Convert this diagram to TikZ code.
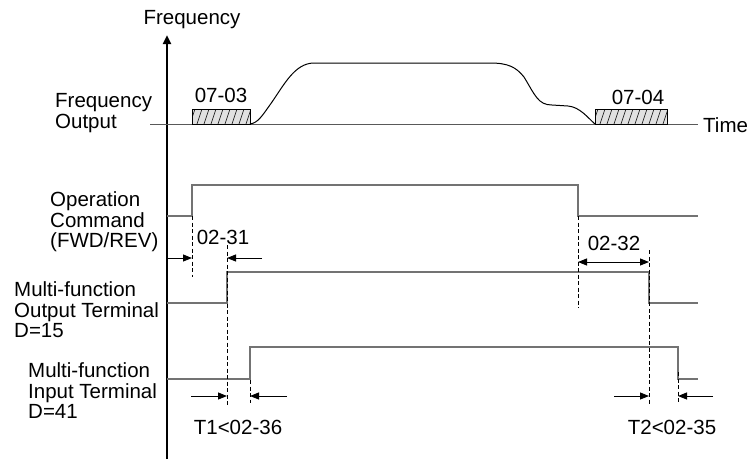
\documentclass[tikz,border=0pt]{standalone}
\usepackage{fontspec}
\setmainfont{Liberation Sans}
\usetikzlibrary{arrows.meta}
\tikzset{
  lbl/.style={font=\fontsize{20.5}{20.5}\selectfont, inner sep=0pt},
  sig/.style={line width=1.4pt, draw=black!55},
  guide/.style={dashed, dash pattern=on 4pt off 2.5pt, line width=0.9pt},
  dimarrow/.style={-{Triangle[length=9pt,width=7pt]}, line width=0.9pt},
  delaybox/.style={draw, line width=0.9pt, fill=black!12},
}
\begin{document}
\begin{tikzpicture}[x=1pt,y=-1pt]
\useasboundingbox (0,0) rectangle (748,459);
% axis
\draw[line width=2.4pt, -{Triangle[length=9pt,width=8pt]}] (167,459) -- (167,35);
\node[lbl] (freq) at (192,20) {Frequency};
% frequency output
\draw[line width=1pt, draw=black!65] (150,124) -- (698,124);
\node[lbl, anchor=west] (time) at (703,125) {Time};
\node[lbl, anchor=west, align=left] (fout) at (55,113) {Frequency\\Output};
\draw[delaybox] (192,109) rectangle (250,124);
\draw[delaybox] (595,109) rectangle (667,124);
\begin{scope}
  \clip (192,109) rectangle (250,124);
  \foreach \x in {190,197,...,255} \draw[line width=0.6pt] (\x,124) -- (\x+5,109);
\end{scope}
\begin{scope}
  \clip (595,109) rectangle (667,124);
  \foreach \x in {593,600,...,672} \draw[line width=0.6pt] (\x,124) -- (\x+5,109);
\end{scope}
\node[lbl] (p0703) at (221,95) {07-03};
\node[lbl] (p0704) at (638,97) {07-04};
\draw[line width=1pt] (250,124) .. controls (258,123) and (262,116) .. (272,102)
  .. controls (285,83) and (295,64) .. (313,63) -- (490,63)
  .. controls (508,63) and (516,67) .. (524,77)
  .. controls (535,95) and (538,105) .. (552,105) -- (568,106)
  .. controls (580,107) and (588,118) .. (595,124);
% operation command
\node[lbl, anchor=west, align=left] (opcmd) at (50,222) {Operation\\Command\\(FWD/REV)};
\draw[sig] (167,216) -- (192,216) -- (192,185) -- (578,185) -- (578,216) -- (698,216);
% multi-function output
\node[lbl, anchor=west, align=left] (mfo) at (14,310) {Multi-function\\Output Terminal\\D=15};
\draw[sig] (167,303) -- (227,303) -- (227,272) -- (649,272) -- (649,303) -- (698,303);
% multi-function input
\node[lbl, anchor=west, align=left] (mfi) at (28,391) {Multi-function\\Input Terminal\\D=41};
\draw[sig] (167,379) -- (250,379) -- (250,347) -- (678,347) -- (678,379) -- (698,379);
% guides
\coordinate (g1a) at (192,216);  \coordinate (g1b) at (192,277);
\coordinate (g2a) at (227,245);  \coordinate (g2b) at (227,405);
\coordinate (g3a) at (578,216);  \coordinate (g3b) at (578,308);
\coordinate (g4a) at (649,250);  \coordinate (g4b) at (649,405);
\coordinate (g5a) at (250,380);  \coordinate (g5b) at (250,403);
\coordinate (g6a) at (678,372);  \coordinate (g6b) at (678,403);
\foreach \g in {1,...,6} \draw[guide] (g\g a) -- (g\g b);
% delay arrows
\coordinate (a1) at (167,258); \coordinate (a1e) at (192,258);
\coordinate (a2) at (262,258); \coordinate (a2e) at (227,258);
\draw[dimarrow] (a1) -- (a1e);
\draw[dimarrow] (a2) -- (a2e);
\node[lbl] (p0231) at (223,237) {02-31};
\coordinate (b1) at (578,262); \coordinate (b2) at (649,262);
\draw[dimarrow, {Triangle[length=9pt,width=7pt]}-{Triangle[length=9pt,width=7pt]}] (b1) -- (b2);
\node[lbl] (p0232) at (614,243) {02-32};
\coordinate (c1) at (191,396); \coordinate (c1e) at (227,396);
\coordinate (c2) at (287,396); \coordinate (c2e) at (250,396);
\draw[dimarrow] (c1) -- (c1e);
\draw[dimarrow] (c2) -- (c2e);
\node[lbl] (t1) at (238,427) {T1<02-36};
\coordinate (d1) at (614,396); \coordinate (d1e) at (649,396);
\coordinate (d2) at (713,396); \coordinate (d2e) at (678,396);
\draw[dimarrow] (d1) -- (d1e);
\draw[dimarrow] (d2) -- (d2e);
\node[lbl] (t2) at (672,427) {T2<02-35};
\end{tikzpicture}
\end{document}
